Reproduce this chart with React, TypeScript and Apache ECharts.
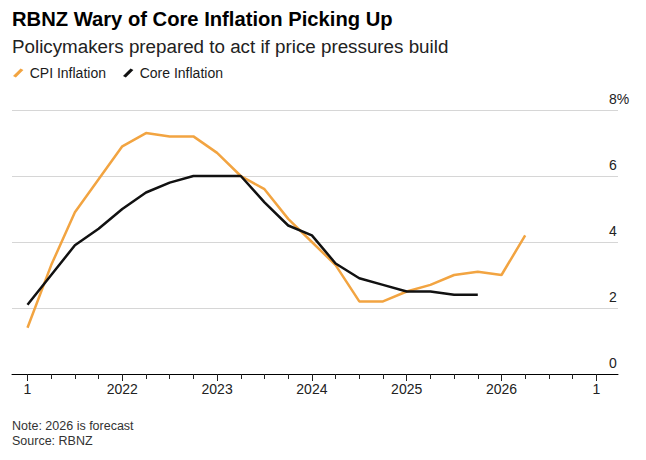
import React, { useEffect, useRef } from "react";
import * as echarts from "echarts";

const quarters = [
  "2021Q1", "2021Q2", "2021Q3", "2021Q4",
  "2022Q1", "2022Q2", "2022Q3", "2022Q4",
  "2023Q1", "2023Q2", "2023Q3", "2023Q4",
  "2024Q1", "2024Q2", "2024Q3", "2024Q4",
  "2025Q1", "2025Q2", "2025Q3", "2025Q4",
  "2026Q1", "2026Q2",
];
const cpiInflation = [1.4, 3.3, 4.9, 5.9, 6.9, 7.3, 7.2, 7.2, 6.7, 6.0, 5.6, 4.7, 4.0, 3.3, 2.2, 2.2, 2.5, 2.7, 3.0, 3.1, 3.0, 4.2];
const coreInflation = [2.1, 3.0, 3.9, 4.4, 5.0, 5.5, 5.8, 6.0, 6.0, 6.0, 5.2, 4.5, 4.2, 3.35, 2.9, 2.7, 2.5, 2.5, 2.4, 2.4];
const yearTicks = [2021, 2022, 2023, 2024, 2025, 2026, 2027];
const yearLabels = ["1", "2022", "2023", "2024", "2025", "2026", "1"];
const yTicks = [0, 2, 4, 6, 8];

const FONT = "'Liberation Sans', Arial, Helvetica, sans-serif";
const ORANGE = "#f2a441";
const BLACK = "#111111";

function qToNum(q: string): number {
  const y = parseInt(q.slice(0, 4), 10);
  const n = parseInt(q.slice(5), 10);
  return y + (n - 1) / 4;
}

const quarterTicks: number[] = [];
for (let y = yearTicks[0]; y <= yearTicks[yearTicks.length - 1]; y += 0.25) quarterTicks.push(y);

export default function App() {
  const ref = useRef<HTMLDivElement>(null);
  useEffect(() => {
    if (!ref.current) return;
    const chart = echarts.init(ref.current, undefined, { renderer: "svg" });
    const xMin = 2020.8365;
    const xMax = 2027.229;
    const option: any = {
      animation: false,
      backgroundColor: "#ffffff",
      textStyle: { fontFamily: FONT },
      grid: { left: 12, right: 28, top: 110, bottom: 86, containLabel: false },
      legend: {
        left: 13,
        top: 66,
        padding: 0,
        itemGap: 17,
        itemWidth: 11,
        itemHeight: 9,
        icon: "path://M0,8 L8,0 L11,1.5 L3,9.5 Z",
        textStyle: { fontSize: 14, color: "#1a1a1a", fontFamily: FONT, padding: [0, 0, 0, 1] },
        data: ["CPI Inflation", "Core Inflation"],
      },
      xAxis: [
        {
          type: "value",
          min: xMin,
          max: xMax,
          axisLine: { show: true, lineStyle: { color: "#000", width: 1 } },
          axisTick: { show: true, customValues: quarterTicks, length: 5, lineStyle: { color: "#222", width: 1 } },
          axisLabel: {
            show: true,
            customValues: yearTicks,
            margin: 8,
            fontSize: 14,
            color: "#222",
            fontFamily: FONT,
            formatter: (v: number) => {
              const i = yearTicks.indexOf(Math.round(v));
              return i >= 0 ? yearLabels[i] : "";
            },
          },
          splitLine: { show: false },
        },
        {
          type: "value",
          min: xMin,
          max: xMax,
          position: "bottom",
          axisLine: { show: false },
          axisTick: { show: true, customValues: yearTicks, length: 7, lineStyle: { color: "#222", width: 1 } },
          axisLabel: { show: false },
          splitLine: { show: false },
        },
      ],
      yAxis: {
        type: "value",
        position: "right",
        min: yTicks[0],
        max: yTicks[yTicks.length - 1],
        interval: 2,
        axisLine: { show: false },
        axisTick: { show: false },
        splitLine: { show: true, lineStyle: { color: "#d6d6d6", width: 1 } },
        axisLabel: {
          margin: -9,
          align: "left",
          verticalAlign: "bottom",
          padding: [0, 0, 4, 0],
          fontSize: 14,
          color: "#222",
          fontFamily: FONT,
          formatter: (v: number) => (v === yTicks[yTicks.length - 1] ? v + "%" : String(v)),
        },
      },
      series: [
        {
          name: "CPI Inflation",
          type: "line",
          xAxisIndex: 0,
          data: cpiInflation.map((v, i) => [qToNum(quarters[i]), v]),
          showSymbol: false,
          symbol: "none",
          lineStyle: { color: ORANGE, width: 2.5 },
          itemStyle: { color: ORANGE },
          z: 3,
        },
        {
          name: "Core Inflation",
          type: "line",
          xAxisIndex: 0,
          data: coreInflation.map((v, i) => [qToNum(quarters[i]), v]),
          showSymbol: false,
          symbol: "none",
          lineStyle: { color: BLACK, width: 2.5 },
          itemStyle: { color: BLACK },
          z: 4,
        },
      ],
      graphic: [
        {
          type: "text",
          left: 12,
          top: 9,
          style: {
            text: "RBNZ Wary of Core Inflation Picking Up",
            fontFamily: FONT,
            fontSize: 20.2,
            fontWeight: "bold",
            fill: "#000",
          },
        },
        {
          type: "text",
          left: 12,
          top: 36.5,
          style: {
            text: "Policymakers prepared to act if price pressures build",
            fontFamily: FONT,
            fontSize: 18.8,
            fill: "#222",
          },
        },
        {
          type: "text",
          left: 12,
          top: 419,
          style: { text: "Note: 2026 is forecast", fontFamily: FONT, fontSize: 12.5, fill: "#333" },
        },
        {
          type: "text",
          left: 12,
          top: 434,
          style: { text: "Source: RBNZ", fontFamily: FONT, fontSize: 12.5, fill: "#333" },
        },
      ],
    };
    chart.setOption(option);
    return () => chart.dispose();
  }, []);
  return (
    <div
      ref={ref}
      style={{ position: "fixed", left: 0, top: 0, width: 646, height: 460, background: "#fff" }}
    />
  );
}
